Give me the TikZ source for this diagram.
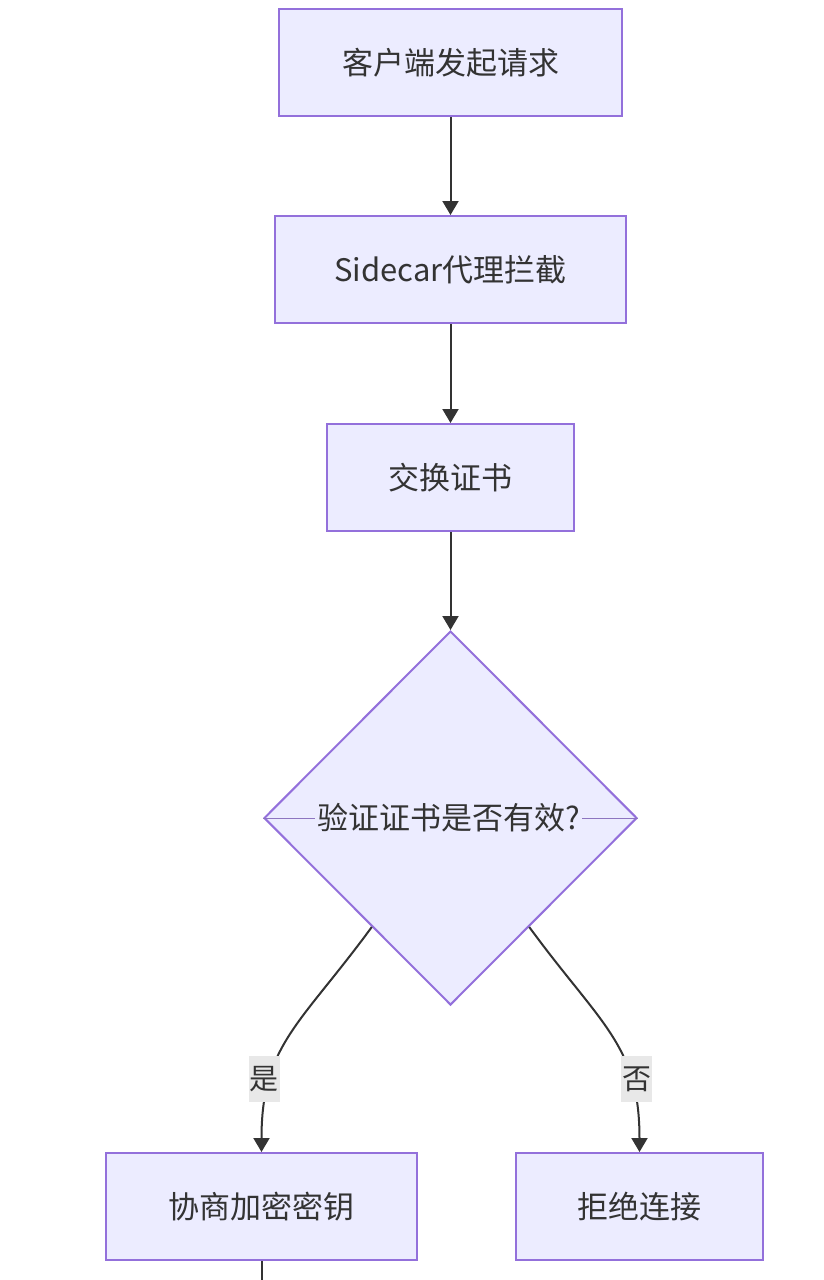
\documentclass[tikz,border=0pt]{standalone}
\usepackage{fontspec}
\setmainfont{Noto Sans CJK SC}
\usepackage{tikz}
\usetikzlibrary{arrows.meta, positioning, shapes.geometric, calc}
\definecolor{boxfill}{HTML}{ECECFF}
\definecolor{boxline}{HTML}{9370DB}
\definecolor{textgray}{HTML}{333333}
\definecolor{labelbg}{HTML}{E8E8E8}

\begin{document}
\begin{tikzpicture}[x=1pt, y=-1pt,
    stepbox/.style={draw=boxline, fill=boxfill, line width=2pt, rectangle, minimum height=107pt, text=textgray, font=\fontsize{31}{36}\selectfont},
    decision/.style={draw=boxline, fill=boxfill, line width=2pt, diamond, aspect=1, inner sep=0pt, minimum width=373pt, minimum height=374pt},
    flow/.style={draw=textgray, line width=2pt, -{Triangle[length=14pt, width=16pt]}},
    edgelabel/.style={fill=labelbg, text=textgray, inner sep=0pt, minimum width=31pt, minimum height=46pt, font=\fontsize{29}{34}\selectfont}]
  \useasboundingbox (0,0) rectangle (823,1280);

  % Request path
  \node[stepbox, minimum width=343pt] (client) at (450.5,62.5) {客户端发起请求};
  \node[stepbox, minimum width=351pt] (sidecar) at (450.5,269.5) {Sidecar代理拦截};
  \node[stepbox, minimum width=247pt] (swap) at (450.5,477.5) {交换证书};

  % Check
  \node[decision] (check) at (450.5,818) {};
  \draw[boxline!70!gray, line width=0.8pt] (check.west) -- (check.east);
  \node[fill=boxfill, text=textgray, inner sep=2pt, font=\fontsize{31}{36}\selectfont] (checktext) at ([xshift=-2pt]check.center) {验证证书是否有效?};

  % Outcomes
  \node[stepbox, minimum width=311pt] (keys) at (261.5,1206.5) {协商加密密钥};
  \node[stepbox, minimum width=247pt] (reject) at (639.5,1206.5) {拒绝连接};
  \coordinate (next) at (261.5,1280);

  % Arrows
  \draw[flow] (client) -- (sidecar);
  \draw[flow] (sidecar) -- (swap);
  \draw[flow] (swap) -- (check.north);
  \draw[flow] ($(check.south)!0.42!(check.west)$) .. controls (300,1025) and (261.5,1045) .. (keys.north)
    node[edgelabel, pos=0.72, xshift=-6pt] (yes) {是};
  \draw[flow] ($(check.south)!0.42!(check.east)$) .. controls (601,1025) and (639.5,1045) .. (reject.north)
    node[edgelabel, pos=0.72, xshift=6pt] (no) {否};
  \draw[textgray, line width=2pt] (keys) -- (next);
\end{tikzpicture}
\end{document}
